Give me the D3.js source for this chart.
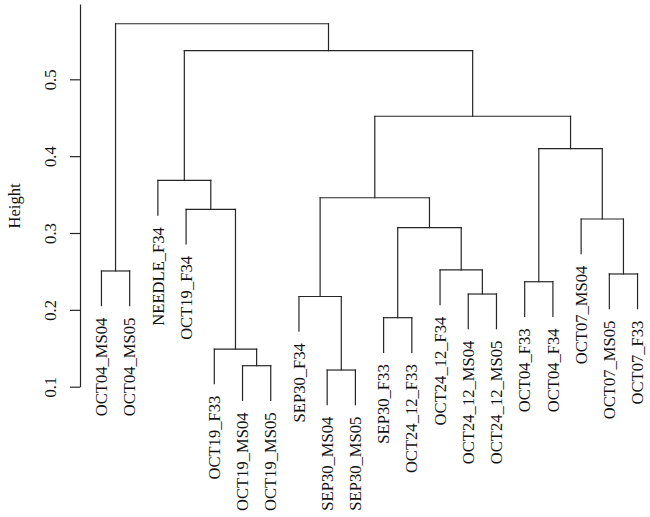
<!DOCTYPE html>
<html>
<head>
<meta charset="utf-8">
<script src="https://cdn.jsdelivr.net/npm/d3@7"></script>
<style>
  html, body { margin: 0; padding: 0; background: #fff; }
  svg { display: block; }
  text { font-family: "Liberation Serif", "Times New Roman", serif; fill: #111; }
</style>
</head>
<body>
<svg id="chart" width="650" height="517"></svg>
<script>
// Leaf labels in dendrogram order (left to right)
const leafLabels = [
  "OCT04_MS04", "OCT04_MS05", "NEEDLE_F34", "OCT19_F34", "OCT19_F33",
  "OCT19_MS04", "OCT19_MS05", "SEP30_F34", "SEP30_MS04", "SEP30_MS05",
  "SEP30_F33", "OCT24_12_F33", "OCT24_12_F34", "OCT24_12_MS04", "OCT24_12_MS05",
  "OCT04_F33", "OCT04_F34", "OCT07_MS04", "OCT07_MS05", "OCT07_F33"
];
// Merge table (R hclust style): negative = leaf index (1-based), positive = earlier merge (1-based)
const mergeLeft  = [-6, -9, -5, -11, -8, -14, -16, -19, -1, -13, 4, -18, -4, 5, -3, 7, 14, 15, 9];
const mergeRight = [-7, -10, 1, -12, 2, -15, -17, -20, -2, 6, 10, 8, 3, 11, 13, 12, 16, 17, 18];
const mergeHeight = [0.1273, 0.1217, 0.1490, 0.1898, 0.2174, 0.2206, 0.2366, 0.2467, 0.2506, 0.2519,
                     0.3069, 0.3182, 0.3308, 0.3459, 0.3684, 0.4097, 0.4519, 0.5372, 0.5723];
const yTicks = [0.1, 0.2, 0.3, 0.4, 0.5];
const yTitle = "Height";

const svg = d3.select("#chart");
const x = d3.scalePoint().domain(leafLabels).range([80, 659]).padding(0.76);
const y = d3.scaleLinear().domain([0.1, 0.598]).range([386.7, 4]);

const hang = 0.1 * (d3.max(mergeHeight) - d3.min(mergeHeight));

const nodeX = [];
const leafEnd = new Array(leafLabels.length);
const segs = [];
function posOf(ref) { return ref < 0 ? x(leafLabels[-ref - 1]) : nodeX[ref - 1]; }
function htOf(ref, parentH) { return ref < 0 ? parentH - hang : mergeHeight[ref - 1]; }

mergeHeight.forEach((h, i) => {
  const a = mergeLeft[i], b = mergeRight[i];
  const xa = posOf(a), xb = posOf(b);
  nodeX[i] = (xa + xb) / 2;
  segs.push([xa, htOf(a, h), xa, h]);
  segs.push([xa, h, xb, h]);
  segs.push([xb, h, xb, htOf(b, h)]);
  [a, b].forEach(r => { if (r < 0) leafEnd[-r - 1] = h - hang; });
});

// Dendrogram segments
svg.append("g")
  .selectAll("line").data(segs).join("line")
  .attr("x1", d => d[0]).attr("y1", d => y(d[1]))
  .attr("x2", d => d[2]).attr("y2", d => y(d[3]))
  .attr("stroke", "#262626").attr("stroke-width", 1.2)
  .attr("stroke-linecap", "square");

// Leaf labels
svg.append("g")
  .selectAll("text").data(leafLabels).join("text")
  .attr("transform", (d, i) => `translate(${x(d)},${y(leafEnd[i]) + 12}) rotate(-90)`)
  .attr("text-anchor", "end")
  .attr("dy", "0.34em")
  .attr("font-size", 16.6)
  .text(d => d);

// Y axis
const axis = d3.axisLeft(y).tickValues(yTicks).tickSizeInner(10).tickSizeOuter(0).tickFormat(d3.format(".1f"));
const ag = svg.append("g").attr("transform", "translate(80,0)").call(axis);
ag.select(".domain").attr("stroke", "#262626").attr("stroke-width", 1.2);
ag.selectAll(".tick line").attr("stroke", "#262626").attr("stroke-width", 1.2);
ag.selectAll(".tick text")
  .attr("x", null).attr("dy", null)
  .attr("text-anchor", "middle")
  .attr("transform", "translate(-30,0) rotate(-90)")
  .attr("dy", "0.34em")
  .attr("font-size", 16.6)
  .attr("font-family", "Liberation Serif, serif")
  .attr("fill", "#111");

svg.append("text")
  .attr("transform", "translate(14,206) rotate(-90)")
  .attr("text-anchor", "middle")
  .attr("dy", "0.34em")
  .attr("font-size", 16.6)
  .text(yTitle);
</script>
</body>
</html>
